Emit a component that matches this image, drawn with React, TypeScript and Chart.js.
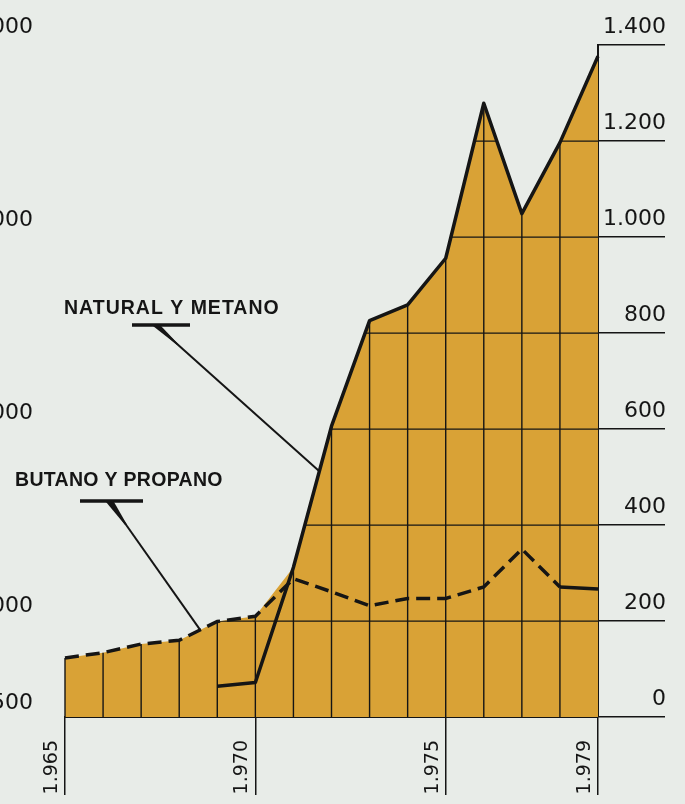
import React, { useEffect, useRef } from 'react';
import { Chart, registerables } from 'chart.js';

Chart.register(...registerables);

// ---- data ----
const years = ['1965', '1966', '1967', '1968', '1969', '1970', '1971', '1972', '1973', '1974', '1975', '1976', '1977', '1978', '1979'];
const butanoPropano = [123, 134, 152, 160, 199, 210, 288, 261, 232, 247, 247, 271, 350, 271, 267];
const naturalMetano = [null, null, null, null, 64, 72, 312, 606, 826, 859, 956, 1279, 1049, 1197, 1377];
const rightTicks = [0, 200, 400, 600, 800, 1000, 1200, 1400];
const leftTicks = [500, 1000, 2000, 3000, 4000];
const labeledYears = ['1965', '1970', '1975', '1979'];
const labelNatural = 'NATURAL Y METANO';
const labelButano = 'BUTANO Y PROPANO';

const BG = '#e8ece8';
const FILL = '#d9a236';
const INK = '#151515';
const NUM_FONT = 'DejaVu Sans';

const fmt = (n: number) =>
  n >= 1000 ? `${Math.floor(n / 1000)}.${String(n % 1000).padStart(3, '0')}` : String(n);

const envelope = years.map((_, i) => Math.max(butanoPropano[i], naturalMetano[i] ?? 0));

const interp = (arr: (number | null)[], t: number) => {
  const i = Math.floor(t);
  const f = t - i;
  const a = arr[i] as number;
  const b = arr[Math.min(i + 1, arr.length - 1)] as number;
  return a + (b - a) * f;
};

const fillGrid = {
  id: 'fillGrid',
  afterDatasetDraw(chart: any, args: any) {
    if (args.index !== 2) return;
    const meta = chart.getDatasetMeta(2);
    const pts = meta.data;
    const ys = chart.scales.y;
    const ctx = chart.ctx as CanvasRenderingContext2D;
    const base = ys.getPixelForValue(0);
    const { left, right } = chart.chartArea;
    ctx.save();
    ctx.beginPath();
    ctx.moveTo(pts[0].x, base);
    pts.forEach((p: any) => ctx.lineTo(p.x, p.y));
    ctx.lineTo(pts[pts.length - 1].x, base);
    ctx.closePath();
    ctx.clip();
    ctx.strokeStyle = INK;
    ctx.lineWidth = 1.2;
    rightTicks.forEach((v) => {
      if (v === 0) return;
      const py = ys.getPixelForValue(v);
      ctx.beginPath();
      ctx.moveTo(left, py);
      ctx.lineTo(right, py);
      ctx.stroke();
    });
    ctx.restore();
    ctx.save();
    ctx.strokeStyle = INK;
    ctx.lineWidth = 1.4;
    pts.forEach((p: any, i: number) => {
      if (i === pts.length - 1) return;
      ctx.beginPath();
      ctx.moveTo(p.x, base);
      ctx.lineTo(p.x, p.y);
      ctx.stroke();
    });
    ctx.restore();
  },
};

const drawLeader = (ctx: CanvasRenderingContext2D, sx: number, sy: number, ex: number, ey: number) => {
  const dx = ex - sx;
  const dy = ey - sy;
  const len = Math.hypot(dx, dy);
  const ux = dx / len;
  const uy = dy / len;
  const wx = sx + ux * 28;
  const wy = sy + uy * 28;
  ctx.beginPath();
  ctx.moveTo(sx - 4, sy);
  ctx.lineTo(sx + 4, sy);
  ctx.lineTo(wx + 1, wy);
  ctx.lineTo(wx - 1, wy);
  ctx.closePath();
  ctx.fill();
  ctx.beginPath();
  ctx.moveTo(sx, sy);
  ctx.lineTo(ex, ey);
  ctx.lineWidth = 2;
  ctx.stroke();
};

const annotations = {
  id: 'annotations',
  afterDraw(chart: any) {
    const ctx = chart.ctx as CanvasRenderingContext2D;
    const xs = chart.scales.x;
    const ys = chart.scales.y;
    ctx.save();
    ctx.fillStyle = INK;
    ctx.strokeStyle = INK;
    ctx.font = 'bold 19.5px "Liberation Sans"';
    ctx.textBaseline = 'middle';
    ctx.textAlign = 'left';
    (ctx as any).letterSpacing = '1px';
    ctx.fillText(labelNatural, 64, 309);
    (ctx as any).letterSpacing = '0.3px';
    ctx.fillText(labelButano, 15, 481);

    ctx.lineCap = 'butt';
    ctx.lineWidth = 3.5;
    ctx.beginPath();
    ctx.moveTo(132, 325);
    ctx.lineTo(190, 325);
    ctx.stroke();
    const tN = 6.68;
    drawLeader(ctx, 157, 326, xs.getPixelForValue(tN), ys.getPixelForValue(interp(naturalMetano, tN)));

    ctx.lineWidth = 3.5;
    ctx.beginPath();
    ctx.moveTo(80, 501);
    ctx.lineTo(143, 501);
    ctx.stroke();
    const tB = 3.55;
    drawLeader(ctx, 110, 502, xs.getPixelForValue(tB), ys.getPixelForValue(interp(butanoPropano, tB)));
    ctx.restore();
  },
};

export default function App() {
  const ref = useRef<HTMLCanvasElement>(null);
  useEffect(() => {
    const numFont = { family: NUM_FONT, size: 22 };
    const chart = new Chart(ref.current!, {
      type: 'line',
      data: {
        labels: years,
        datasets: [
          {
            label: 'Natural y metano',
            data: naturalMetano,
            borderColor: INK,
            borderWidth: 3.5,
            pointRadius: 0,
            fill: false,
            tension: 0,
            order: 1,
            borderJoinStyle: 'round',
            yAxisID: 'y',
          },
          {
            label: 'Butano y propano',
            data: butanoPropano,
            borderColor: INK,
            borderWidth: 3.5,
            borderDash: [14, 7],
            pointRadius: 0,
            fill: false,
            tension: 0,
            order: 2,
            yAxisID: 'y',
            segment: {
              borderDash: (c: any) => (c.p0DataIndex >= 13 ? [] : [14, 7]),
            },
          },
          {
            label: 'area',
            data: envelope,
            borderWidth: 0,
            borderColor: 'rgba(0,0,0,0)',
            backgroundColor: FILL,
            pointRadius: 0,
            fill: 'origin',
            tension: 0,
            order: 3,
            yAxisID: 'y',
          },
        ],
      },
      options: {
        responsive: false,
        animation: false,
        devicePixelRatio: 1,
        layout: { padding: { top: 36, left: 0, right: 19, bottom: 0 } },
        plugins: { legend: { display: false }, tooltip: { enabled: false } },
        scales: {
          x: {
            type: 'category',
            offset: false,
            grid: {
              drawOnChartArea: false,
              drawTicks: true,
              tickLength: 78,
              color: (c: any) => (c.tick && labeledYears.includes(years[c.index]) ? INK : 'rgba(0,0,0,0)'),
              lineWidth: 1.5,
            },
            border: { display: true, color: INK, width: 2 },
            ticks: {
              autoSkip: false,
              maxRotation: 90,
              minRotation: 90,
              padding: -55,
              labelOffset: -13,
              color: INK,
              font: { family: NUM_FONT, size: 19 },
              callback: (_v: any, i: number) => (labeledYears.includes(years[i]) ? fmt(Number(years[i])) : ''),
            },
            afterFit: (s: any) => {
              s.height = 87;
            },
          },
          y: {
            position: 'right',
            min: 0,
            max: 1400,
            afterBuildTicks: (s: any) => {
              s.ticks = rightTicks.map((v) => ({ value: v }));
            },
            grid: {
              drawOnChartArea: false,
              drawTicks: true,
              tickLength: 67,
              color: INK,
              lineWidth: 1.5,
            },
            border: { display: true, color: INK, width: 2 },
            ticks: {
              crossAlign: 'far',
              padding: 0,
              labelOffset: -18,
              color: INK,
              font: numFont,
              callback: (v: any) => fmt(Number(v)),
            },
            afterFit: (s: any) => {
              s.width = 68;
            },
          },
          yL: {
            position: 'left',
            min: 520,
            max: 4000,
            afterBuildTicks: (s: any) => {
              s.ticks = leftTicks.map((v) => ({ value: v }));
            },
            grid: { display: false, drawTicks: false },
            border: { display: false },
            ticks: {
              padding: 32,
              labelOffset: -18,
              color: INK,
              font: numFont,
              callback: (v: any) => fmt(Number(v)),
            },
            afterFit: (s: any) => {
              s.width = 65;
            },
          },
        },
      },
      plugins: [fillGrid, annotations],
    } as any);
    return () => chart.destroy();
  }, []);

  return (
    <div
      style={{
        position: 'fixed',
        left: 0,
        top: 0,
        width: 685,
        height: 804,
        background: BG,
        overflow: 'hidden',
      }}
    >
      <canvas ref={ref} width={685} height={804} style={{ display: 'block', width: 685, height: 804 }} />
    </div>
  );
}
